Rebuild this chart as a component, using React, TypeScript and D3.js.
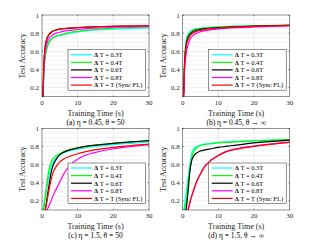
import React, {useEffect, useRef} from "react"
import * as d3 from "d3"

// time grid (s)
const times = [0, 0.3, 0.5, 1, 1.5, 2, 2.5, 3, 4, 5, 6, 8, 10, 12, 15, 20, 25, 30]

const labels = ["0.3T", "0.4T", "0.6T", "0.8T", "T (Sync FL)"]
const colors = ["#00ffff", "#00ff00", "#000000", "#ff00ff", "#ff0000"]

// (a) eta = 0.45, theta = 50
const aCyan = [0.02, 0.12, 0.35, 0.57, 0.66, 0.70, 0.73, 0.75, 0.765, 0.775, 0.785, 0.80, 0.815, 0.825, 0.835, 0.845, 0.852, 0.858]
const aGreen = [0.02, 0.12, 0.35, 0.56, 0.65, 0.70, 0.73, 0.75, 0.77, 0.78, 0.79, 0.81, 0.82, 0.83, 0.84, 0.855, 0.863, 0.868]
const aBlack = [0.02, 0.15, 0.44, 0.67, 0.745, 0.785, 0.805, 0.82, 0.835, 0.845, 0.85, 0.855, 0.86, 0.865, 0.87, 0.875, 0.878, 0.88]
const aMagenta = [0.02, 0.12, 0.38, 0.62, 0.70, 0.74, 0.765, 0.78, 0.80, 0.81, 0.82, 0.83, 0.84, 0.848, 0.856, 0.865, 0.87, 0.875]
const aRed = [0.02, 0.15, 0.45, 0.69, 0.755, 0.79, 0.81, 0.822, 0.836, 0.845, 0.85, 0.856, 0.861, 0.866, 0.871, 0.876, 0.879, 0.882]

// (b) eta = 0.45, theta -> inf
const bCyan = [0.02, 0.2, 0.5, 0.73, 0.79, 0.815, 0.83, 0.84, 0.85, 0.855, 0.86, 0.865, 0.87, 0.874, 0.877, 0.881, 0.884, 0.887]
const bGreen = [0.02, 0.18, 0.47, 0.71, 0.775, 0.805, 0.82, 0.835, 0.845, 0.85, 0.855, 0.861, 0.867, 0.871, 0.875, 0.88, 0.884, 0.887]
const bBlack = [0.02, 0.16, 0.44, 0.68, 0.75, 0.785, 0.805, 0.82, 0.835, 0.842, 0.848, 0.855, 0.86, 0.865, 0.87, 0.877, 0.882, 0.886]
const bMagenta = [0.02, 0.12, 0.36, 0.58, 0.67, 0.73, 0.76, 0.78, 0.80, 0.815, 0.825, 0.838, 0.847, 0.853, 0.86, 0.868, 0.874, 0.88]
const bRed = [0.02, 0.15, 0.42, 0.66, 0.73, 0.77, 0.79, 0.805, 0.82, 0.83, 0.84, 0.85, 0.857, 0.862, 0.868, 0.875, 0.88, 0.885]

// (c) eta = 1.5, theta = 50
const cCyan = [0.05, 0.1, 0.15, 0.25, 0.37, 0.48, 0.57, 0.62, 0.68, 0.71, 0.73, 0.755, 0.77, 0.785, 0.80, 0.82, 0.835, 0.85]
const cGreen = [0.02, 0.08, 0.12, 0.28, 0.43, 0.55, 0.62, 0.66, 0.70, 0.72, 0.74, 0.765, 0.78, 0.795, 0.815, 0.835, 0.85, 0.865]
const cBlack = [0, 0, 0.02, 0.12, 0.25, 0.38, 0.5, 0.58, 0.66, 0.71, 0.735, 0.765, 0.785, 0.80, 0.815, 0.835, 0.85, 0.865]
const cMagenta = [0, 0, 0, 0.08, 0.11, 0.15, 0.2, 0.25, 0.33, 0.41, 0.49, 0.6, 0.66, 0.70, 0.735, 0.775, 0.80, 0.82]
const cRed = [0, 0, 0.02, 0.12, 0.22, 0.33, 0.42, 0.5, 0.58, 0.63, 0.66, 0.695, 0.72, 0.74, 0.765, 0.79, 0.81, 0.825]

// (d) eta = 1.5, theta -> inf
const dCyan = [0.02, 0.1, 0.15, 0.3, 0.45, 0.6, 0.72, 0.77, 0.80, 0.815, 0.825, 0.835, 0.845, 0.85, 0.855, 0.865, 0.87, 0.875]
const dGreen = [0, 0.05, 0.1, 0.2, 0.38, 0.55, 0.67, 0.74, 0.79, 0.81, 0.82, 0.83, 0.84, 0.845, 0.85, 0.86, 0.868, 0.875]
const dBlack = [0, 0, 0.02, 0.12, 0.3, 0.52, 0.64, 0.69, 0.73, 0.75, 0.76, 0.775, 0.79, 0.80, 0.815, 0.84, 0.855, 0.87]
const dMagenta = [0, 0, 0, 0.05, 0.1, 0.18, 0.25, 0.31, 0.42, 0.5, 0.57, 0.65, 0.70, 0.74, 0.775, 0.805, 0.828, 0.848]
const dRed = [0, 0, 0, 0.05, 0.1, 0.18, 0.25, 0.31, 0.42, 0.5, 0.57, 0.65, 0.70, 0.74, 0.77, 0.80, 0.825, 0.845]

const xTicks = [0, 10, 20, 30]
const yTicks = [0.2, 0.4, 0.6, 0.8, 1]

const panels = [
    {id: "a", caption: "(a) η = 0.45, θ = 50", left: 42, top: 15, series: [aCyan, aGreen, aBlack, aMagenta, aRed]},
    {id: "b", caption: "(b) η = 0.45, θ → ∞", left: 182.7, top: 15, series: [bCyan, bGreen, bBlack, bMagenta, bRed]},
    {id: "c", caption: "(c) η = 1.5, θ = 50", left: 42, top: 128.3, series: [cCyan, cGreen, cBlack, cMagenta, cRed]},
    {id: "d", caption: "(d) η = 1.5, θ → ∞", left: 182.7, top: 128.3, series: [dCyan, dGreen, dBlack, dMagenta, dRed]},
]

const W = 107
const H = 81.7
const font = "'Liberation Serif', 'DejaVu Serif', serif"

export default function App() {
    const ref = useRef<SVGSVGElement>(null)

    useEffect(() => {
        const svg = d3.select(ref.current)
        svg.selectAll("*").remove()
        svg.append("rect").attr("width", 321).attr("height", 240).attr("fill", "white")

        panels.forEach(p => {
            const x = d3.scaleLinear().domain([0, 30]).range([0, W])
            const y = d3.scaleLinear().domain([0.1, 1]).range([H, 0])
            const g = svg.append("g").attr("transform", `translate(${p.left},${p.top})`)

            g.append("defs").append("clipPath").attr("id", "clip" + p.id)
                .append("rect").attr("width", W).attr("height", H)

            // minor grid (dotted)
            g.selectAll(".minor").data(d3.range(0.15, 1, 0.05).filter(v => Math.abs(v * 5 - Math.round(v * 5)) > 0.01))
                .join("line")
                .attr("x1", 0).attr("x2", W)
                .attr("y1", d => y(d)).attr("y2", d => y(d))
                .attr("stroke", "#c8c8c8").attr("stroke-width", 0.5).attr("stroke-dasharray", "0.8,1.2")
            // major grid
            g.selectAll(".gx").data(xTicks.slice(1, -1)).join("line")
                .attr("x1", d => x(d)).attr("x2", d => x(d)).attr("y1", 0).attr("y2", H)
                .attr("stroke", "#e0e0e0").attr("stroke-width", 0.6)
            g.selectAll(".gy").data(yTicks.slice(0, -1)).join("line")
                .attr("x1", 0).attr("x2", W).attr("y1", d => y(d)).attr("y2", d => y(d))
                .attr("stroke", "#e0e0e0").attr("stroke-width", 0.6)

            const line = d3.line<number>()
                .x((d, i) => x(times[i]))
                .y(d => y(d))
                .curve(d3.curveMonotoneX)

            const lines = g.append("g").attr("clip-path", `url(#clip${p.id})`)
            p.series.forEach((s, i) => {
                lines.append("path").attr("d", line(s))
                    .attr("fill", "none").attr("stroke", colors[i]).attr("stroke-width", 1.2)
            })

            // box + inward ticks
            g.append("rect").attr("width", W).attr("height", H)
                .attr("fill", "none").attr("stroke", "#262626").attr("stroke-width", 0.5)
            xTicks.forEach(t => {
                g.append("line").attr("x1", x(t)).attr("x2", x(t)).attr("y1", H).attr("y2", H - 1.2).attr("stroke", "#262626").attr("stroke-width", 0.5)
                g.append("line").attr("x1", x(t)).attr("x2", x(t)).attr("y1", 0).attr("y2", 1.2).attr("stroke", "#262626").attr("stroke-width", 0.5)
                g.append("text").attr("x", x(t)).attr("y", H + 8.5).attr("text-anchor", "middle")
                    .attr("font-size", 7).attr("font-family", font).attr("fill", "#262626").text(t)
            })
            yTicks.forEach(t => {
                g.append("line").attr("x1", 0).attr("x2", 1.2).attr("y1", y(t)).attr("y2", y(t)).attr("stroke", "#262626").attr("stroke-width", 0.5)
                g.append("line").attr("x1", W).attr("x2", W - 1.2).attr("y1", y(t)).attr("y2", y(t)).attr("stroke", "#262626").attr("stroke-width", 0.5)
                g.append("text").attr("x", -3).attr("y", y(t) + 2.5).attr("text-anchor", "end")
                    .attr("font-size", 7).attr("font-family", font).attr("fill", "#262626").text(t)
            })

            g.append("text").attr("transform", `translate(${-17},${H / 2}) rotate(-90)`)
                .attr("text-anchor", "middle").attr("font-size", 8).attr("font-family", font)
                .attr("fill", "#262626").text("Test Accuracy")
            g.append("text").attr("x", W / 2).attr("y", H + 19).attr("text-anchor", "middle")
                .attr("font-size", 8).attr("font-family", font).attr("fill", "#262626").text("Training Time (s)")
            g.append("text").attr("x", W / 2).attr("y", H + 27.8).attr("text-anchor", "middle")
                .attr("font-size", 7.5).attr("font-family", font).attr("fill", "#000").text(p.caption)

            // legend
            const lg = g.append("g").attr("transform", `translate(26,${H - 47})`)
            lg.append("rect").attr("width", 77.5).attr("height", 40.5)
                .attr("fill", "white").attr("stroke", "#262626").attr("stroke-width", 0.5)
            labels.forEach((lab, i) => {
                const ly = 5 + i * 7.6
                lg.append("line").attr("x1", 3).attr("x2", 24).attr("y1", ly).attr("y2", ly)
                    .attr("stroke", colors[i]).attr("stroke-width", 1.2)
                const tx = lg.append("text").attr("x", 26).attr("y", ly + 2.3)
                    .attr("font-size", 6.5).attr("font-family", font).attr("fill", "#000")
                tx.append("tspan").attr("font-weight", "bold").text("Δ")
                tx.append("tspan").text(" T = " + lab)
            })
        })
    }, [])

    return (
        <svg ref={ref} width={321} height={240} style={{position: "absolute", left: 0, top: 0}}></svg>
    )
}
